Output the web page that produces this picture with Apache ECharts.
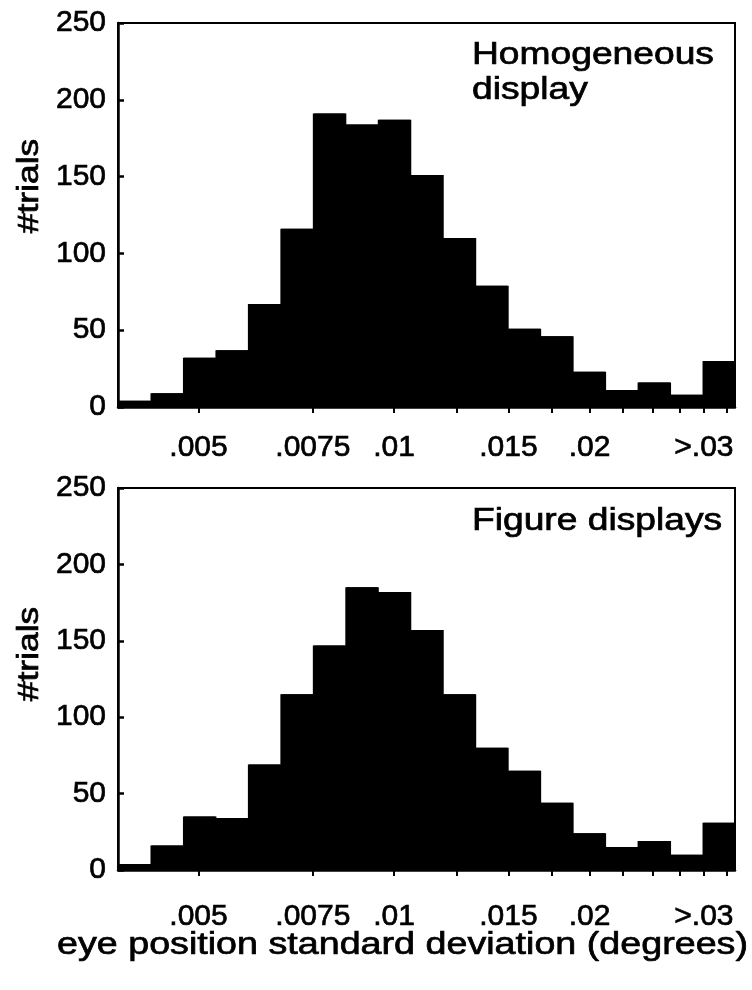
<!DOCTYPE html>
<html><head><meta charset="utf-8">
<script src="https://cdn.jsdelivr.net/npm/echarts@6/dist/echarts.min.js"></script>
<style>html,body{margin:0;padding:0;background:#fff}#c{width:752px;height:990px}</style>
</head><body><div id="c"></div>
<script>
// Histogram bins: equal width in log10 space (0.05 decade), last bin is ">.03"
const binCenters = ['.0040', '.0045', '.0050', '.0056', '.0063', '.0071', '.0079', '.0089', '.0100', '.0112',
                    '.0126', '.0141', '.0158', '.0178', '.0200', '.0224', '.0251', '.0282', '>.03'];
const homogeneousCounts = [4, 9, 32, 37, 67, 116, 191, 184, 187, 151, 110, 79, 51, 46, 23, 11, 16, 8, 30];
const figureCounts      = [4, 16, 35, 34, 69, 115, 147, 185, 182, 157, 115, 80, 65, 44, 24, 15, 19, 10, 31];

// x axis (log scale, drawn in log10 units)
const xRangeLog = [-2.425, -1.475];
const xTickValues = [0.005, 0.0075, 0.01, 0.0125, 0.015, 0.0175, 0.02, 0.0225, 0.025, 0.0275, 0.03, 0.0325];
const xLabelValues = [0.005, 0.0075, 0.01, 0.015, 0.02, 0.03];
const xLabelTexts = ['.005', '.0075', '.01', '.015', '.02', '>.03'];

// y axis
const yMin = 0, yMax = 250, yStep = 50;

const FONT = '"Liberation Sans", Arial, Helvetica, sans-serif';
const TB = { textBorderColor: '#000', textBorderWidth: 0.7 };

function labelFor(v) {
  const i = xLabelValues.findIndex(x => Math.abs(Math.log10(x) - v) < 1e-6);
  return i >= 0 ? xLabelTexts[i] : '';
}

function valueXAxis(gridIndex, margin) {
  return {
    type: 'value', gridIndex: gridIndex, position: 'bottom',
    min: xRangeLog[0], max: xRangeLog[1],
    axisLine: { show: true, onZero: false, lineStyle: { color: '#000', width: 2.5 } },
    axisTick: { show: true, inside: false, length: 6, lineStyle: { color: '#000', width: 2 },
                customValues: xTickValues.map(Math.log10) },
    axisLabel: Object.assign({ show: true, customValues: xLabelValues.map(Math.log10), formatter: labelFor,
                 color: '#000', fontSize: 30, fontFamily: FONT, margin: margin }, TB),
    splitLine: { show: false }
  };
}
function catXAxis(gridIndex) {
  return { type: 'category', gridIndex: gridIndex, data: binCenters, show: false, boundaryGap: true };
}
function yAx(gridIndex) {
  return {
    type: 'value', gridIndex: gridIndex, min: yMin, max: yMax, interval: yStep,
    axisLine: { show: true, lineStyle: { color: '#000', width: 2.5 } },
    axisTick: { show: true, inside: true, length: 6, lineStyle: { color: '#000', width: 2.5 } },
    axisLabel: Object.assign({ color: '#000', fontSize: 30, fontFamily: FONT, margin: 12 }, TB),
    splitLine: { show: false }
  };
}
function barSeries(xIdx, yIdx, data) {
  return {
    type: 'bar', xAxisIndex: xIdx, yAxisIndex: yIdx, data: data,
    barCategoryGap: '0%', barGap: '0%', silent: true,
    itemStyle: { color: '#000', shadowColor: '#000', shadowBlur: 0, shadowOffsetX: 1 }
  };
}
function txt(x, y, text, size, sx) {
  return {
    type: 'text', x: x, y: y, scaleX: sx, silent: true,
    style: { text: text, fontSize: size, fontFamily: FONT, fill: '#000', stroke: '#000', lineWidth: 0.7,
             lineHeight: 35, align: 'left', verticalAlign: 'top' }
  };
}
function vtxt(x, y, text) {
  return {
    type: 'text', x: x, y: y, rotation: Math.PI / 2, scaleX: 1.22, silent: true,
    style: { text: text, fontSize: 29, fontFamily: FONT, fill: '#000', stroke: '#000', lineWidth: 0.7,
             align: 'center', verticalAlign: 'middle' }
  };
}

const chart = echarts.init(document.getElementById('c'), null, { renderer: 'canvas' });
chart.setOption({
  animation: false,
  backgroundColor: '#fff',
  grid: [
    { left: 118, top: 23, width: 617, height: 384, show: true, borderColor: '#000', borderWidth: 2, containLabel: false },
    { left: 118, top: 488, width: 617, height: 382, show: true, borderColor: '#000', borderWidth: 2, containLabel: false }
  ],
  xAxis: [catXAxis(0), valueXAxis(0, 26), catXAxis(1), valueXAxis(1, 32)],
  yAxis: [yAx(0), yAx(1)],
  series: [barSeries(0, 0, homogeneousCounts), barSeries(2, 1, figureCounts)],
  graphic: [
    txt(472, 38, 'Homogeneous\ndisplay', 31, 1.2),
    txt(472, 504, 'Figure displays', 31, 1.2),
    vtxt(30, 186, '#trials'),
    vtxt(30, 654, '#trials'),
    txt(57, 928, 'eye position standard deviation (degrees)', 31, 1.215)
  ]
});
</script></body></html>
